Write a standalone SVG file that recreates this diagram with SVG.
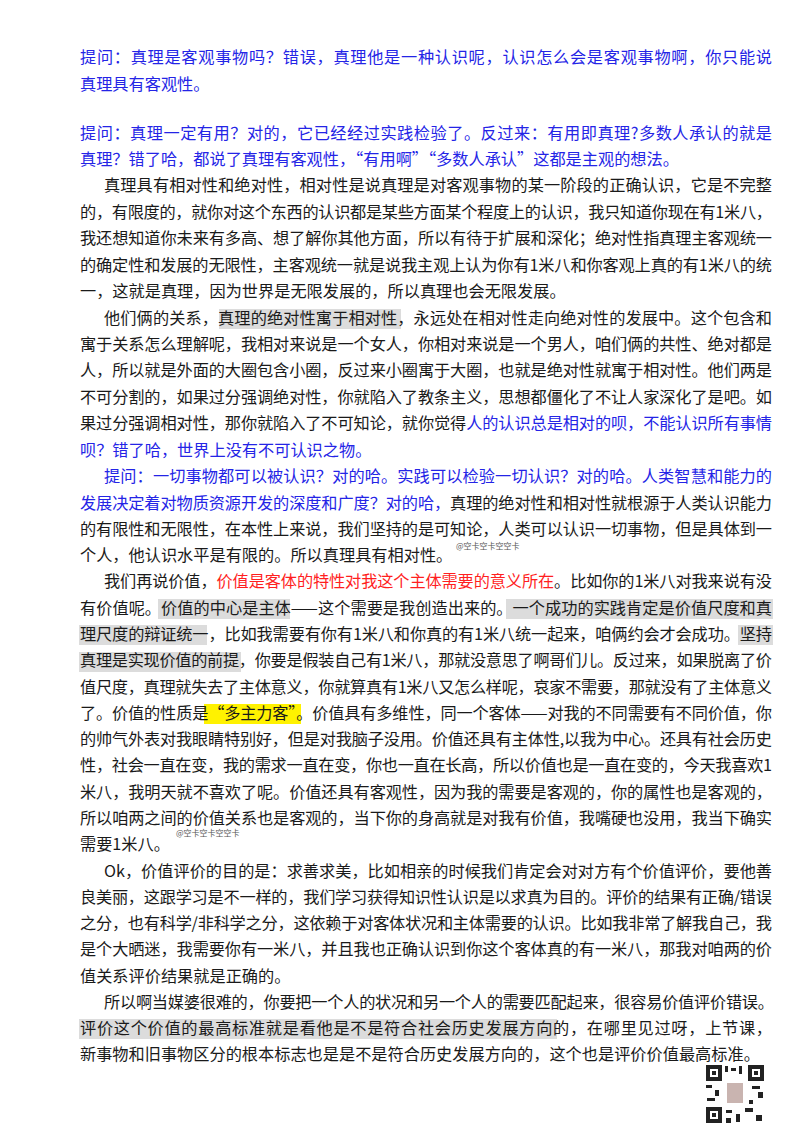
<svg xmlns="http://www.w3.org/2000/svg" width="800" height="1132" viewBox="0 0 800 1132">
<style>
text{font-family:"Noto Sans CJK SC","Noto Sans",sans-serif;font-size:16.2px;fill:#1a1a1a}
.b{fill:#2424e6}
.r{fill:#ff1f1f}
.hg{fill:#dcdcdc}
.hy{fill:#fff200}
.st{font-size:8px;fill:#555}
</style>
<rect width="800" height="1132" fill="#fff"/>
<g id="highlights">
<rect class="hg" x="219" y="309" width="182" height="20"/>
<rect class="hg" x="158" y="599" width="132" height="20"/>
<rect class="hg" x="506" y="599" width="267" height="20"/>
<rect class="hg" x="79" y="625" width="128" height="20"/>
<rect class="hg" x="738" y="625" width="35" height="20"/>
<rect class="hg" x="79" y="652" width="162" height="20"/>
<rect class="hy" x="204" y="704" width="97" height="20"/>
<rect class="hg" x="79" y="1019" width="478" height="20"/>
</g>
<g id="text">
<text x="80" y="63" class="b" textLength="692">提问：真理是客观事物吗？错误，真理他是一种认识呢，认识怎么会是客观事物啊，你只能说</text>
<text x="80" y="90" class="b">真理具有客观性。</text>
<text x="80" y="139" class="b" textLength="692">提问：真理一定有用？对的，它已经经过实践检验了。反过来：有用即真理?多数人承认的就是</text>
<text x="80" y="165" class="b">真理？错了哈，都说了真理有客观性，“有用啊”“多数人承认”这都是主观的想法。</text>
<text x="104" y="191" textLength="668">真理具有相对性和绝对性，相对性是说真理是对客观事物的某一阶段的正确认识，它是不完整</text>
<text x="80" y="218" textLength="692">的，有限度的，就你对这个东西的认识都是某些方面某个程度上的认识，我只知道你现在有1米八，</text>
<text x="80" y="244" textLength="692">我还想知道你未来有多高、想了解你其他方面，所以有待于扩展和深化；绝对性指真理主客观统一</text>
<text x="80" y="271" textLength="692">的确定性和发展的无限性，主客观统一就是说我主观上认为你有1米八和你客观上真的有1米八的统</text>
<text x="80" y="297">一，这就是真理，因为世界是无限发展的，所以真理也会无限发展。</text>
<text x="104" y="324" textLength="668">他们俩的关系，真理的绝对性寓于相对性，永远处在相对性走向绝对性的发展中。这个包含和</text>
<text x="80" y="350" textLength="692">寓于关系怎么理解呢，我相对来说是一个女人，你相对来说是一个男人，咱们俩的共性、绝对都是</text>
<text x="80" y="376" textLength="692">人，所以就是外面的大圈包含小圈，反过来小圈寓于大圈，也就是绝对性就寓于相对性。他们两是</text>
<text x="80" y="403" textLength="692">不可分割的，如果过分强调绝对性，你就陷入了教条主义，思想都僵化了不让人家深化了是吧。如</text>
<text x="80" y="429" textLength="692">果过分强调相对性，那你就陷入了不可知论，就你觉得<tspan class="b">人的认识总是相对的呗，不能认识所有事情</tspan></text>
<text x="80" y="456" class="b">呗？错了哈，世界上没有不可认识之物。</text>
<text x="104" y="482" class="b" textLength="668">提问：一切事物都可以被认识？对的哈。实践可以检验一切认识？对的哈。人类智慧和能力的</text>
<text x="80" y="509" textLength="692"><tspan class="b">发展决定着对物质资源开发的深度和广度？对的哈，</tspan>真理的绝对性和相对性就根源于人类认识能力</text>
<text x="80" y="535" textLength="692">的有限性和无限性，在本性上来说，我们坚持的是可知论，人类可以认识一切事物，但是具体到一</text>
<text x="80" y="561">个人，他认识水平是有限的。所以真理具有相对性。</text>
<text x="456" y="549" class="st">@空卡空卡空空卡</text>
<text x="104" y="587" textLength="668">我们再说价值，<tspan class="r">价值是客体的特性对我这个主体需要的意义所在</tspan>。比如你的1米八对我来说有没</text>
<text x="80" y="614" textLength="692">有价值呢。价值的中心是主体——这个需要是我创造出来的。一个成功的实践肯定是价值尺度和真</text>
<text x="80" y="640" textLength="692">理尺度的辩证统一，比如我需要有你有1米八和你真的有1米八统一起来，咱俩约会才会成功。坚持</text>
<text x="80" y="666" textLength="692">真理是实现价值的前提，你要是假装自己有1米八，那就没意思了啊哥们儿。反过来，如果脱离了价</text>
<text x="80" y="693" textLength="692">值尺度，真理就失去了主体意义，你就算真有1米八又怎么样呢，哀家不需要，那就没有了主体意义</text>
<text x="80" y="719" textLength="692">了。价值的性质是“多主力客”。价值具有多维性，同一个客体——对我的不同需要有不同价值，你</text>
<text x="80" y="745" textLength="692">的帅气外表对我眼睛特别好，但是对我脑子没用。价值还具有主体性,以我为中心。还具有社会历史</text>
<text x="80" y="771" textLength="692">性，社会一直在变，我的需求一直在变，你也一直在长高，所以价值也是一直在变的，今天我喜欢1</text>
<text x="80" y="798" textLength="692">米八，我明天就不喜欢了呢。价值还具有客观性，因为我的需要是客观的，你的属性也是客观的，</text>
<text x="80" y="824" textLength="692">所以咱两之间的价值关系也是客观的，当下你的身高就是对我有价值，我嘴硬也没用，我当下确实</text>
<text x="80" y="850">需要1米八。</text>
<text x="176" y="836" class="st">@空卡空卡空空卡</text>
<text x="104" y="877" textLength="668">Ok，价值评价的目的是：求善求美，比如相亲的时候我们肯定会对对方有个价值评价，要他善</text>
<text x="80" y="903" textLength="692">良美丽，这跟学习是不一样的，我们学习获得知识性认识是以求真为目的。评价的结果有正确/错误</text>
<text x="80" y="929" textLength="692">之分，也有科学/非科学之分，这依赖于对客体状况和主体需要的认识。比如我非常了解我自己，我</text>
<text x="80" y="955" textLength="692">是个大晒迷，我需要你有一米八，并且我也正确认识到你这个客体真的有一米八，那我对咱两的价</text>
<text x="80" y="982">值关系评价结果就是正确的。</text>
<text x="104" y="1008" textLength="670">所以啊当媒婆很难的，你要把一个人的状况和另一个人的需要匹配起来，很容易价值评价错误。</text>
<text x="80" y="1034" textLength="692">评价这个价值的最高标准就是看他是不是符合社会历史发展方向的，在哪里见过呀，上节课，</text>
<text x="80" y="1060">新事物和旧事物区分的根本标志也是是不是符合历史发展方向的，这个也是评价价值最高标准。</text>
</g>
<g id="qr" fill="#222">
<rect x="705" y="1064" width="60" height="60" fill="#fff"/>
<path d="M706 1065h16v16h-16z M710 1069v8h8v-8z M748 1065h16v16h-16z M752 1069v8h8v-8z M706 1107h16v16h-16z M710 1111v8h8v-8z" fill-rule="evenodd"/>
<rect x="712" y="1071" width="4" height="4"/><rect x="754" y="1071" width="4" height="4"/><rect x="712" y="1113" width="4" height="4"/>
<rect x="725" y="1066" width="3" height="6"/><rect x="731" y="1068" width="5" height="3"/><rect x="739" y="1066" width="3" height="8"/>
<rect x="706" y="1085" width="6" height="3"/><rect x="715" y="1090" width="4" height="6"/><rect x="707" y="1098" width="8" height="3"/>
<rect x="752" y="1086" width="8" height="3"/><rect x="758" y="1092" width="5" height="6"/><rect x="749" y="1100" width="4" height="4"/>
<rect x="726" y="1110" width="6" height="3"/><rect x="736" y="1114" width="4" height="8"/><rect x="745" y="1108" width="8" height="4"/><rect x="756" y="1115" width="6" height="6"/><rect x="726" y="1118" width="5" height="5"/>
<rect x="727" y="1083" width="16" height="20" fill="#c9b4b0"/>
</g>
</svg>
